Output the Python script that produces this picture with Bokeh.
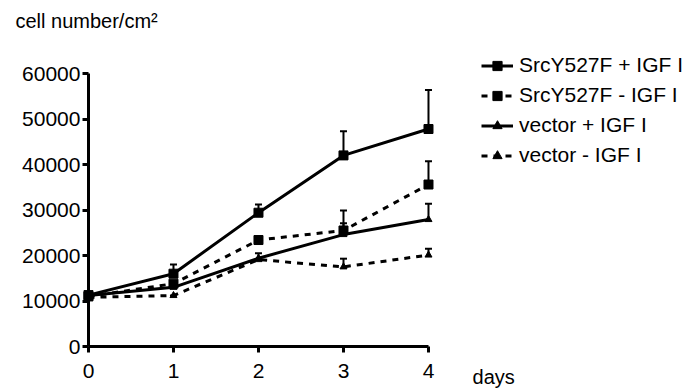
from bokeh.plotting import figure
from bokeh.models import (Range1d, Whisker, ColumnDataSource, Legend, LegendItem,
                          Label, TeeHead, FixedTicker, NumeralTickFormatter)
from bokeh.embed import file_html
from bokeh.resources import INLINE

# ---- data ----
days = [0, 1, 2, 3, 4]
day_ticks = [0, 1, 2, 3, 4]
y_ticks = [0, 10000, 20000, 30000, 40000, 50000, 60000]

src_plus = [11300, 16000, 29400, 42000, 47800]
src_plus_sd = [0, 2000, 1800, 5300, 8600]
src_minus = [11000, 13800, 23400, 25500, 35600]
src_minus_sd = [0, 0, 0, 4400, 5100]
vec_plus = [11200, 13000, 19400, 24600, 27900]
vec_plus_sd = [0, 0, 1100, 2500, 3500]
vec_minus = [10800, 11200, 19100, 17500, 20100]
vec_minus_sd = [0, 0, 0, 1800, 1400]

labels = ["SrcY527F + IGF I", "SrcY527F - IGF I", "vector + IGF I", "vector - IGF I"]
series = [src_plus, src_minus, vec_plus, vec_minus]
sds = [src_plus_sd, src_minus_sd, vec_plus_sd, vec_minus_sd]
dashes = ["solid", "6 6", "solid", "6 6"]
markers = ["square", "square", "triangle", "triangle"]
msizes = [9, 9, 7, 7]

FONT = "Liberation Sans"

p = figure(width=696, height=391, x_range=Range1d(-1.035, 7.153),
           y_range=Range1d(-9890, 76044), output_backend="svg",
           toolbar_location=None, min_border=0)
p.outline_line_color = None
p.grid.visible = False
p.background_fill_color = "white"
p.border_fill_color = "white"

xa = p.xaxis[0]
ya = p.yaxis[0]
xa.fixed_location = 0
ya.fixed_location = 0
xa.ticker = FixedTicker(ticks=day_ticks)
ya.ticker = FixedTicker(ticks=y_ticks)
xa.bounds = (0, 4)
ya.bounds = (0, 60000)
ya.formatter = NumeralTickFormatter(format="0")
for ax in (xa, ya):
    ax.axis_line_width = 3
    ax.axis_line_color = "black"
    ax.major_tick_line_width = 3
    ax.major_tick_line_color = "black"
    ax.major_tick_out = 6
    ax.major_tick_in = 0
    ax.minor_tick_line_color = None
    ax.major_label_text_font = FONT
    ax.major_label_text_font_size = "21px"
    ax.major_label_text_color = "black"
xa.major_label_standoff = 11
ya.major_label_standoff = 2

items = []
for lab, ys, sd, dash, mk, ms in zip(labels, series, sds, dashes, markers, msizes):
    upper = [y + s for y, s in zip(ys, sd)]
    src = ColumnDataSource(dict(x=days, y=ys, upper=upper))
    w = Whisker(source=src, base="x", upper="upper", lower="y", dimension="height",
                line_width=2, line_color="black",
                upper_head=TeeHead(size=7, line_width=2, line_color="black"),
                lower_head=None)
    p.add_layout(w)
    r1 = p.line("x", "y", source=src, line_width=3, line_color="black", line_dash=dash)
    r2 = p.scatter("x", "y", source=src, marker=mk, size=ms, fill_color="black",
                   line_color="black")
    items.append(LegendItem(label=lab, renderers=[r1, r2]))

leg = Legend(items=items, location=(481, 224), border_line_color=None,
             background_fill_alpha=0, padding=0, margin=0, spacing=6,
             glyph_width=32, glyph_height=23, label_height=23, label_standoff=6,
             label_text_font=FONT, label_text_font_size="21px",
             label_text_color="black")
p.add_layout(leg)

p.add_layout(Label(x=-0.859, y=71430, text="cell number/cm²", text_font=FONT,
                   text_font_size="20px", text_baseline="alphabetic",
                   text_color="black"))
p.add_layout(Label(x=4.518, y=-6813, text="days", text_font=FONT,
                   text_font_size="20px", text_baseline="alphabetic",
                   text_color="black"))

open("out.html", "w").write(file_html(p, INLINE))
